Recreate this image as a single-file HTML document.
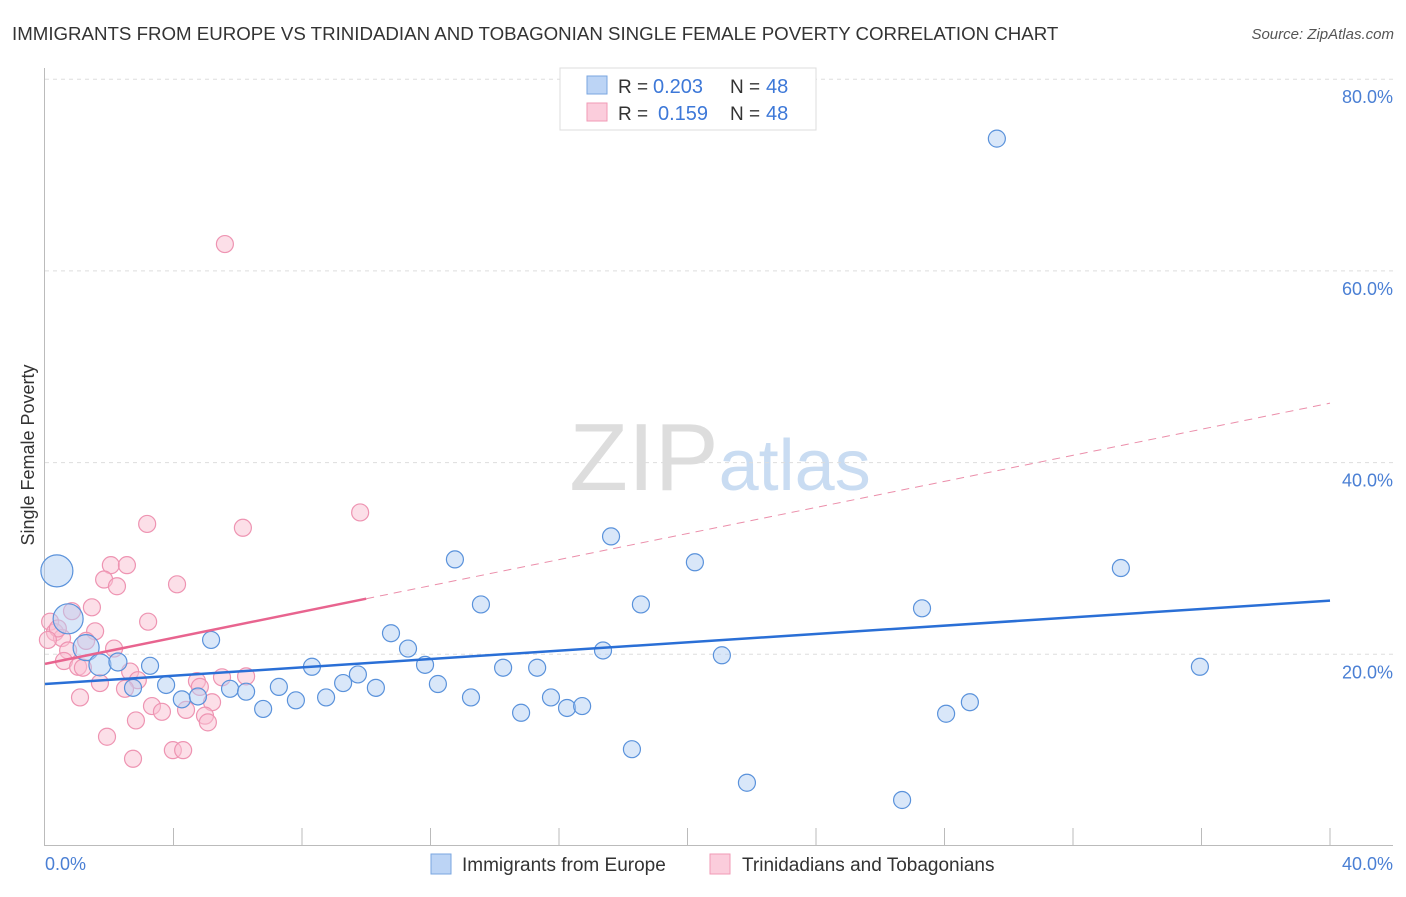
<!DOCTYPE html>
<html><head><meta charset="utf-8"><style>
body{margin:0;background:#fff;font-family:"Liberation Sans",sans-serif;}
svg text{font-family:"Liberation Sans",sans-serif;}
</style></head><body>
<svg width="1406" height="892">
<text x="12" y="40" font-size="18.7" fill="#333">IMMIGRANTS FROM EUROPE VS TRINIDADIAN AND TOBAGONIAN SINGLE FEMALE POVERTY CORRELATION CHART</text>
<text x="1394" y="39" font-size="15" fill="#555" font-style="italic" text-anchor="end">Source: ZipAtlas.com</text>
<text x="720" y="490" font-size="96" fill="#ddd" text-anchor="middle" font-family="Liberation Serif">ZIP<tspan fill="#c9dcf2" font-family="Liberation Sans" font-size="72">atlas</tspan></text>
<g id="grid"></g><g id="axes"></g><g id="pts"></g><g id="lines"></g>
<text transform="translate(34,455) rotate(-90)" font-size="18" fill="#333" text-anchor="middle">Single Female Poverty</text>
<text x="45" y="870" font-size="18" fill="#4a7fd4">0.0%</text>
<text x="1393" y="870" font-size="18" fill="#4a7fd4" text-anchor="end">40.0%</text>
<g>
<rect x="560" y="68" width="256" height="62" fill="#fff" stroke="#ddd"/>
<rect x="587" y="76" width="20" height="18" fill="#bcd4f5" stroke="#7aa6e0"/>
<rect x="587" y="103" width="20" height="18" fill="#fbcddc" stroke="#f09ab6"/>
<text x="618" y="93" font-size="19" fill="#333">R =</text>
<text x="653" y="93" font-size="20" fill="#3d78d8">0.203</text>
<text x="730" y="93" font-size="19" fill="#333">N =</text>
<text x="766" y="93" font-size="20" fill="#3d78d8">48</text>
<text x="618" y="120" font-size="19" fill="#333">R =</text>
<text x="658" y="120" font-size="20" fill="#3d78d8">0.159</text>
<text x="730" y="120" font-size="19" fill="#333">N =</text>
<text x="766" y="120" font-size="20" fill="#3d78d8">48</text>
</g>
<g>
<rect x="431" y="854" width="20" height="20" fill="#bcd4f5" stroke="#7aa6e0"/>
<text x="462" y="871" font-size="19" fill="#333">Immigrants from Europe</text>
<rect x="710" y="854" width="20" height="20" fill="#fbcddc" stroke="#f09ab6"/>
<text x="742" y="871" font-size="19" fill="#333">Trinidadians and Tobagonians</text>
</g>
</svg>
<script>
const blueX=[0.37,0.72,1.28,1.71,2.27,2.74,3.27,3.77,4.26,4.76,5.17,5.76,6.26,6.79,7.28,7.81,8.31,8.75,9.28,9.74,10.30,10.77,11.30,11.83,12.23,12.76,13.26,13.57,14.26,14.82,15.32,15.75,16.25,16.72,17.37,17.62,18.27,18.55,20.23,21.07,21.85,26.68,27.30,28.05,28.79,29.63,33.49,35.95];
const blueY=[28.7,23.7,20.7,18.9,19.2,16.5,18.8,16.8,15.3,15.6,21.5,16.4,16.1,14.3,16.6,15.2,18.7,15.5,17.0,17.9,16.5,22.2,20.6,18.9,16.9,29.9,15.5,25.2,18.6,13.9,18.6,15.5,14.4,14.6,20.4,32.3,10.1,25.2,29.6,19.9,6.6,4.8,24.8,13.8,15.0,73.8,29.0,18.7];
const pinkX=[5.60,3.18,6.16,9.81,2.05,2.55,1.84,2.24,4.11,1.46,3.21,0.84,0.16,0.31,0.53,1.56,1.28,2.15,0.72,0.59,1.03,1.18,2.65,2.89,1.71,2.49,1.09,3.33,3.64,4.73,4.82,5.51,6.26,5.20,4.39,4.98,5.07,2.83,1.93,2.74,3.98,4.30,0.40,0.09];
const pinkY=[62.8,33.6,33.2,34.8,29.3,29.3,27.8,27.1,27.3,24.9,23.4,24.5,23.4,22.3,21.7,22.4,21.4,20.6,20.4,19.3,18.7,18.6,18.2,17.3,17.0,16.4,15.5,14.6,14.0,17.2,16.6,17.6,17.7,15.0,14.2,13.6,12.9,13.1,11.4,9.1,10.0,10.0,22.7,21.5];
const yTicks=[20,40,60,80];
const blueTrend=[16.9,25.6];
const pinkTrend=[19.0,25.8,46.2];
const X=v=>45+v/40*1285, Y=v=>846-v/20*191.7;
const NS="http://www.w3.org/2000/svg";
function mk(p,t,a){const e=document.createElementNS(NS,t);for(const k in a)e.setAttribute(k,a[k]);p.appendChild(e);return e;}
const grid=document.getElementById('grid'),axes=document.getElementById('axes'),pts=document.getElementById('pts'),lines=document.getElementById('lines');
yTicks.forEach(t=>{
 const l=mk(grid,'line',{x1:45,x2:1393,y1:Y(t),y2:Y(t),stroke:'#ddd','stroke-dasharray':'4,4'});
 
 
 const tx=mk(grid,'text',{x:1393,y:Y(t)+24,'font-size':18,fill:'#4a7fd4','text-anchor':'end'});tx.textContent=t.toFixed(1)+'%';
 
 
});
mk(axes,'line',{x1:44.5,x2:44.5,y1:68,y2:846,stroke:'#bbb'});
mk(axes,'line',{x1:44,x2:1393,y1:845.5,y2:845.5,stroke:'#bbb'});
for(let i=1;i<=10;i++){mk(axes,'line',{x1:X(i*4),x2:X(i*4),y1:828,y2:846,stroke:'#bbb'});}
function dot(x,y,r,fill,stroke,name){const c=mk(pts,'circle',{cx:X(x),cy:Y(y),r:r,fill:fill,stroke:stroke,'stroke-width':1.2,'fill-opacity':0.5});
 
 }
pinkX.forEach((x,i)=>dot(x,pinkY[i],8.5,'#f9bfd1','#ee94b2','pink-point'));
const bigR=[16,15,13,11,9];
blueX.forEach((x,i)=>dot(x,blueY[i],bigR[i]||8.5,'#b4cff3','#5a92db','blue-point'));
let l=mk(lines,'line',{x1:X(0),y1:Y(blueTrend[0]),x2:X(40),y2:Y(blueTrend[1]),stroke:'#2a6fd6','stroke-width':2.5});


l=mk(lines,'line',{x1:X(0),y1:Y(pinkTrend[0]),x2:X(10),y2:Y(pinkTrend[1]),stroke:'#e8648f','stroke-width':2.5});


l=mk(lines,'line',{x1:X(10),y1:Y(pinkTrend[1]),x2:X(40),y2:Y(pinkTrend[2]),stroke:'#eb8eaa','stroke-width':1,'stroke-dasharray':'8,6'});


</script>
</body></html>
